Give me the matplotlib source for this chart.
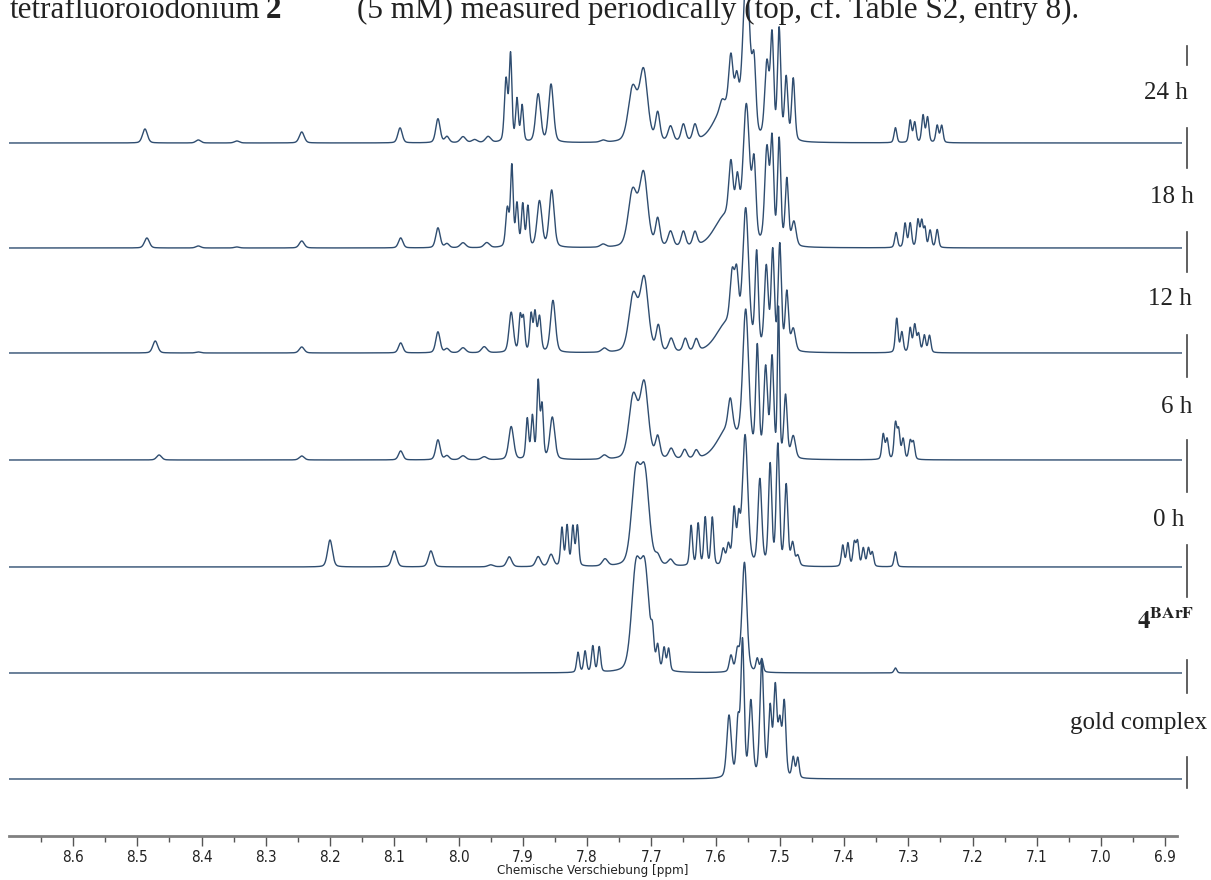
import numpy as np
import matplotlib
matplotlib.use("Agg")
import matplotlib.pyplot as plt
from matplotlib.ticker import MultipleLocator, FormatStrFormatter
from matplotlib.lines import Line2D

# ---------------- data: peak lists (ppm, height, fwhm) -----------------
labels = ["24 h", "18 h", "12 h", "6 h", "0 h", r"$\mathbf{4^{BArF}}$", "gold complex"]

peaks_24h = [
    (8.488, 14, .009), (8.405, 3, .009), (8.345, 2, .009), (8.244, 11, .009), (8.091, 15, .008),
    (8.032, 24, .008), (8.018, 6, .008), (7.993, 6, .010), (7.975, 3, .010), (7.954, 6, .010),
    (7.926, 62, .006), (7.919, 86, .005), (7.909, 42, .005), (7.901, 36, .005),
    (7.876, 48, .009), (7.856, 58, .009), (7.775, 2, .010),
    (7.729, 53, .016), (7.712, 70, .015), (7.690, 28, .008), (7.670, 15, .009), (7.650, 17, .008),
    (7.632, 16, .008), (7.585, 34, .040), (7.590, 8, .008), (7.576, 55, .008), (7.567, 38, .007),
    (7.552, 160, .013), (7.540, 65, .007), (7.520, 75, .008), (7.512, 100, .006), (7.501, 110, .006),
    (7.490, 62, .006), (7.479, 62, .006),
    (7.320, 15, .005), (7.297, 22, .005), (7.290, 20, .005), (7.277, 27, .005), (7.270, 25, .005),
    (7.255, 17, .005), (7.248, 17, .005),
]

peaks_18h = [
    (8.485, 10, .009), (8.405, 2, .009), (8.345, 1, .009), (8.244, 7, .009), (8.090, 10, .008),
    (8.032, 20, .008), (8.018, 4, .008), (7.993, 5, .010), (7.956, 5, .010),
    (7.924, 38, .006), (7.917, 80, .005), (7.909, 42, .005), (7.900, 42, .005), (7.892, 40, .005),
    (7.874, 46, .009), (7.855, 57, .009), (7.775, 3, .010),
    (7.729, 55, .016), (7.712, 72, .015), (7.690, 27, .008), (7.670, 15, .009), (7.650, 15, .008),
    (7.632, 14, .008), (7.585, 30, .040), (7.576, 58, .008), (7.566, 48, .007),
    (7.552, 135, .012), (7.540, 75, .007), (7.520, 95, .008), (7.512, 100, .006), (7.501, 105, .006),
    (7.489, 66, .006), (7.478, 24, .008),
    (7.319, 15, .005), (7.305, 24, .005), (7.297, 24, .005), (7.285, 27, .005), (7.279, 26, .005),
    (7.274, 18, .004), (7.266, 17, .005), (7.255, 18, .005),
]

peaks_12h = [
    (8.472, 12, .009), (8.405, 1, .009), (8.244, 6, .009), (8.090, 10, .008),
    (8.032, 21, .008), (8.018, 4, .008), (7.993, 5, .010), (7.960, 6, .010),
    (7.918, 40, .008), (7.904, 35, .005), (7.899, 33, .005), (7.887, 37, .005), (7.881, 38, .005),
    (7.874, 35, .006), (7.853, 52, .009), (7.773, 4, .010),
    (7.728, 56, .016), (7.711, 72, .015), (7.689, 25, .008), (7.669, 13, .009), (7.647, 13, .008),
    (7.630, 12, .008), (7.582, 28, .040), (7.574, 52, .008), (7.567, 54, .007),
    (7.553, 135, .011), (7.536, 95, .006), (7.521, 82, .007), (7.511, 98, .006), (7.500, 105, .006),
    (7.489, 58, .006), (7.479, 22, .008),
    (7.318, 34, .005), (7.310, 20, .005), (7.297, 24, .005), (7.290, 27, .005), (7.284, 18, .005),
    (7.275, 17, .005), (7.267, 17, .005),
]

peaks_6h = [
    (8.466, 5, .009), (8.244, 4, .009), (8.090, 9, .008),
    (8.032, 20, .008), (8.018, 4, .008), (7.993, 4, .010), (7.960, 3, .010),
    (7.918, 33, .009), (7.893, 40, .005), (7.885, 42, .005), (7.876, 76, .005), (7.870, 52, .005),
    (7.854, 42, .009), (7.773, 4, .010),
    (7.728, 62, .016), (7.711, 74, .015), (7.690, 21, .008), (7.669, 10, .009), (7.648, 9, .008),
    (7.630, 8, .008), (7.580, 30, .040), (7.577, 30, .008),
    (7.553, 140, .011), (7.535, 108, .006), (7.522, 88, .007), (7.512, 98, .006), (7.502, 148, .004),
    (7.491, 62, .006), (7.479, 22, .008),
    (7.339, 25, .005), (7.333, 20, .005), (7.320, 35, .005), (7.315, 28, .005), (7.308, 20, .005),
    (7.297, 18, .005), (7.292, 17, .005),
]

peaks_0h = [
    (8.200, 27, .009), (8.100, 16, .009), (8.043, 16, .009), (7.950, 2, .010), (7.921, 10, .009),
    (7.876, 10, .009), (7.856, 12, .009),
    (7.839, 38, .005), (7.831, 40, .005), (7.822, 39, .005), (7.815, 40, .005), (7.772, 7, .010),
    (7.724, 88, .016), (7.710, 88, .016), (7.690, 8, .009), (7.670, 6, .009),
    (7.638, 40, .005), (7.627, 42, .005), (7.616, 48, .005), (7.605, 48, .005),
    (7.588, 16, .006), (7.580, 20, .006), (7.571, 55, .006), (7.564, 40, .005),
    (7.554, 130, .010), (7.531, 85, .007), (7.515, 100, .006), (7.503, 120, .006), (7.490, 80, .006),
    (7.480, 22, .006), (7.472, 10, .006),
    (7.402, 21, .005), (7.394, 23, .005), (7.384, 23, .005), (7.379, 24, .005), (7.370, 18, .005),
    (7.362, 18, .005), (7.356, 14, .005), (7.320, 15, .005),
]

peaks_4barf = [
    (7.814, 20, .005), (7.803, 21, .005), (7.791, 26, .005), (7.781, 25, .005),
    (7.724, 98, .016), (7.710, 98, .016), (7.698, 24, .005), (7.690, 22, .005), (7.680, 22, .005),
    (7.673, 22, .005), (7.576, 16, .006), (7.566, 20, .006), (7.555, 110, .009),
    (7.535, 13, .005), (7.528, 13, .005), (7.320, 5, .005),
]

peaks_gold = [
    (7.579, 62, .008), (7.565, 55, .006), (7.558, 135, .006), (7.545, 75, .007), (7.528, 115, .007),
    (7.515, 68, .006), (7.507, 88, .006), (7.500, 52, .006), (7.493, 74, .006), (7.479, 20, .005),
    (7.472, 20, .005),
]

spectra = [peaks_24h, peaks_18h, peaks_12h, peaks_6h, peaks_0h, peaks_4barf, peaks_gold]

# ---------------- layout (pixels of the 1211x880 canvas) ----------------
W, H = 1211, 880
AX_L, AX_R, AX_B = 9, 1182, 836          # axes box in pixels
X_LEFT, X_RIGHT = 8.6996, 6.874          # ppm at axes edges
baselines_px = [143, 248, 353, 460, 567, 673, 779]
label_right_px = [1188, 1194, 1192, 1192, 1184, 1194, 1207]
label_y_px = [93, 197, 299, 407, 520, 621, 723]
bar_x_px = 1187
bar_segments_px = [(46, 65), (128, 168), (232, 272), (335, 377), (440, 492),
                   (545, 597), (660, 693), (757, 788)]
LINE_COLOR = "#2f4d70"

plt.rcParams["mathtext.fontset"] = "stix"

fig = plt.figure(figsize=(W / 100, H / 100), dpi=100)
ax = fig.add_axes([AX_L / W, (H - AX_B) / H, (AX_R - AX_L) / W, AX_B / H])
ax.set_xlim(X_LEFT, X_RIGHT)
ax.set_ylim(0, AX_B)

x = np.linspace(X_LEFT, X_RIGHT, 8000)


def line_shape(x, c, f, eta=0.3):
    g = np.exp(-4 * np.log(2) * ((x - c) / f) ** 2)
    l = 1.0 / (1.0 + 4 * ((x - c) / f) ** 2)
    return eta * l + (1 - eta) * g


for peaks, base in zip(spectra, baselines_px):
    y = np.zeros_like(x)
    for c, h, f in peaks:
        y += h * line_shape(x, c, f)
    ax.plot(x, (AX_B - base) + y, color=LINE_COLOR, lw=1.0)

# axis styling
for s in ("top", "left", "right"):
    ax.spines[s].set_visible(False)
ax.spines["bottom"].set_color("#808080")
ax.spines["bottom"].set_linewidth(2)
ax.spines["bottom"].set_bounds(X_LEFT, 6.882)
ax.set_yticks([])
ax.xaxis.set_major_locator(MultipleLocator(0.1))
ax.xaxis.set_minor_locator(MultipleLocator(0.05))
ax.xaxis.set_major_formatter(FormatStrFormatter("%.1f"))
ax.tick_params(axis="x", which="major", direction="out", length=7, width=1, color="#555555",
               labelsize=11, labelcolor="#222222", pad=3)
ax.tick_params(axis="x", which="minor", direction="out", length=4, width=1, color="#555555")
for t in ax.get_xticklabels():
    t.set_fontfamily("DejaVu Sans")
    t.set_fontstretch("condensed")
fig.text(593 / W, 1 - 870 / H, "Chemische Verschiebung [ppm]", fontsize=9.5, color="#222222",
         family="DejaVu Sans", stretch="condensed", ha="center", va="center")

# right-hand labels and vertical bar
for lab, xr, yc in zip(labels, label_right_px, label_y_px):
    fig.text(xr / W, 1 - yc / H, lab, ha="right", va="center", fontsize=18,
             family="Liberation Serif", color="#222222")
for y0, y1 in bar_segments_px:
    fig.add_artist(Line2D([bar_x_px / W, bar_x_px / W], [1 - y0 / H, 1 - y1 / H],
                          color="#444444", lw=1.2))

# caption line at the very top (clipped by the page edge, as in the source)
CAP_Y = 1 - 18 / H
fig.text(10 / W, CAP_Y, "tetrafluoroiodonium", fontsize=22.4, family="Liberation Serif",
         va="baseline", ha="left", color="#222222")
fig.text(266 / W, CAP_Y, "2", fontsize=22.4, family="Liberation Serif", weight="bold",
         va="baseline", ha="left", color="#222222")
fig.text(357 / W, CAP_Y, "(5 mM) measured periodically (top, cf. Table S2, entry 8).",
         fontsize=22.4, family="Liberation Serif", va="baseline", ha="left", color="#222222")

fig.savefig("out.png", dpi=100)
